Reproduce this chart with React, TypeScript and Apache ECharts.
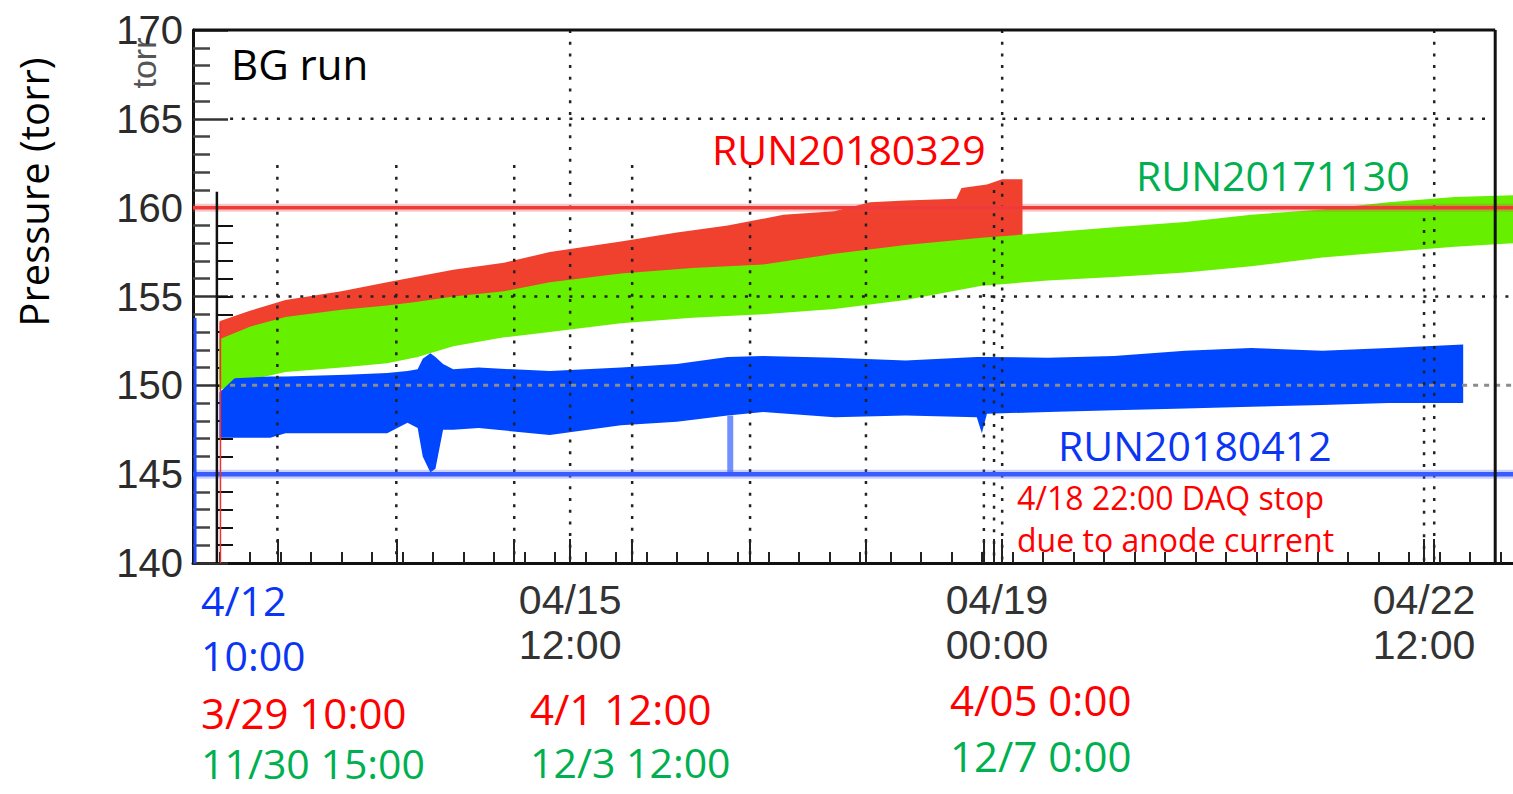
import React, { useEffect, useRef } from "react";
import * as echarts from "echarts";

// x: hours since 04/12 00:00 ; y: pressure (torr)
const xMin = 9.8;
const xMax = 269.5;
const labelTimes = [84, 168, 252];
const labelTexts = ["04/15\n12:00", "04/19\n00:00", "04/22\n12:00"];
const tallTickTimes = [26.4, 49.8, 73.0, 84, 96.2, 119.4, 142.2, 165.4, 167.4, 169, 252, 254];
const smallTickTimes = [15, 21, 27, 33, 39, 45, 51, 57, 63, 69, 75, 81, 87, 93, 99, 105, 111, 117, 123, 129, 135, 141, 147, 153, 159, 165, 171, 177, 183, 189, 195, 201, 207, 213, 219, 225, 231, 237, 243, 249, 255, 261, 267];
const innerTickValues = [141, 142, 143, 144, 145, 146, 147, 148, 149, 150, 151, 152, 153, 154, 155, 156, 157, 158, 159, 160];

// RUN20180329 (red)
const redTime = [15, 21, 28, 39, 48, 61, 71, 80, 94, 105, 115, 126, 136, 143, 150, 160, 161, 166, 169, 173];
const redHigh = [153.6, 154.2, 154.8, 155.3, 155.8, 156.5, 156.9, 157.5, 158.1, 158.6, 159.0, 159.6, 159.8, 160.3, 160.4, 160.5, 161.1, 161.3, 161.6, 161.6];
const redLow = [150.3, 150.9, 151.5, 152.0, 152.5, 153.2, 153.6, 154.2, 154.8, 155.3, 155.7, 156.3, 156.5, 157.0, 157.1, 157.2, 157.6, 157.8, 158.0, 158.0];

// RUN20171130 (green)
const greenTime = [15, 21, 28, 39, 48, 54, 61, 71, 80, 94, 108, 122, 136, 150, 165, 178, 191, 205, 218, 232, 245, 258, 269.5];
const greenHigh = [152.6, 153.3, 153.85, 154.25, 154.5, 154.7, 155.0, 155.3, 155.8, 156.3, 156.6, 156.8, 157.4, 157.9, 158.3, 158.6, 158.9, 159.2, 159.6, 159.9, 160.3, 160.6, 160.7];
const greenLow = [149.75, 150.3, 150.75, 151.0, 151.25, 151.6, 152.2, 152.7, 153.0, 153.5, 153.8, 154.0, 154.3, 154.8, 155.6, 155.9, 156.1, 156.35, 156.7, 157.2, 157.5, 157.8, 158.0];

// RUN20180412 (blue)
const blueTime = [15, 18, 25, 28, 40, 48, 52, 54, 55, 56.5, 57.5, 59, 61, 66, 80, 94, 105, 115, 122, 136, 150, 164, 165, 166, 178, 191, 205, 218, 232, 245, 259.7];
const blueHigh = [149.6, 150.4, 150.5, 150.5, 150.6, 150.7, 150.8, 150.9, 151.5, 151.8, 151.6, 151.2, 150.9, 151.0, 150.8, 151.0, 151.2, 151.6, 151.65, 151.55, 151.4, 151.6, 151.6, 151.6, 151.55, 151.65, 151.95, 152.1, 151.95, 152.1, 152.3];
const blueLow = [147.05, 147.05, 147.05, 147.3, 147.3, 147.3, 147.9, 147.6, 146.0, 145.1, 145.3, 147.5, 147.5, 147.6, 147.2, 147.75, 147.95, 148.3, 148.5, 148.2, 148.3, 148.2, 147.3, 148.4, 148.5, 148.6, 148.7, 148.8, 148.9, 149.0, 149.0];
const blueDropouts = [[115.5, 145.0, 148.3]];

// reference levels
const redLevel = 160;
const blueLevel = 145;

// grid lines [t1, v1, t2, v2]
const darkDotted = [
  [17.1, 165, 264, 165],
  [17.1, 155, 269.5, 155],
  [26.4, 162.4, 26.4, 140],
  [49.8, 162.4, 49.8, 140],
  [73.0, 162.4, 73.0, 140],
  [96.2, 162.4, 96.2, 140],
  [119.4, 162.4, 119.4, 140],
  [142.2, 162.4, 142.2, 140],
  [84, 170, 84, 140],
  [169, 170, 169, 140],
  [254, 170, 254, 140],
  [165.4, 155.8, 165.4, 140],
  [167.4, 161, 167.4, 140],
  [252, 159.4, 252, 140],
];
const grayDashed = [[17.1, 150, 269.5, 150]];
const frameLines = [
  [xMin, 170, 266, 170],
  [266, 170, 266, 140],
];
const innerAxis = [[14.5, 140, 14.5, 160.9]];
const blueAxis = [[10.2, 140, 10.2, 153.8]];
const redAxis = [[15.2, 140, 15.2, 153.5]];

const OPEN = '"Open Sans", "Noto Sans", sans-serif';

function bandSeries(times: number[], low: number[], high: number[], color: string, z: number) {
  const data = times.map((t, i) => [t, low[i], high[i]]);
  return {
    type: "custom",
    z,
    silent: true,
    clip: true,
    encode: { x: 0, y: [1, 2] },
    data,
    renderItem: (params: any, api: any) => {
      if (params.dataIndex !== 0) return null;
      const top = data.map((d) => api.coord([d[0], d[2]]));
      const bottom = data.map((d) => api.coord([d[0], d[1]])).reverse();
      return { type: "polygon", shape: { points: top.concat(bottom) }, style: { fill: color } };
    },
  };
}

function segSeries(segs: number[][], style: any, z: number) {
  return {
    type: "custom",
    z,
    silent: true,
    clip: false,
    encode: { x: [0, 2], y: [1, 3] },
    data: segs,
    renderItem: (params: any, api: any) => {
      const p1 = api.coord([api.value(0), api.value(1)]);
      const p2 = api.coord([api.value(2), api.value(3)]);
      return { type: "line", shape: { x1: p1[0], y1: p1[1], x2: p2[0], y2: p2[1] }, style };
    },
  };
}

function txt(text: string, x: number, y: number, fill: string, size: number) {
  return {
    type: "text",
    x,
    y,
    silent: true,
    style: { text, fill, font: `${size}px ${OPEN}`, lineHeight: size, align: "left", verticalAlign: "middle" },
  };
}

export default function App() {
  const ref = useRef<HTMLDivElement>(null);
  useEffect(() => {
    if (!ref.current) return;
    const chart = echarts.init(ref.current, null, { renderer: "svg" });
    const levelSegs = (v: number) => [[xMin, v, xMax, v]];
    const option: any = {
      animation: false,
      backgroundColor: "#ffffff",
      grid: { left: 193, top: 30, width: 1320, height: 533, containLabel: false },
      xAxis: [
        {
          type: "value",
          min: xMin,
          max: xMax,
          position: "bottom",
          axisLine: { show: true, lineStyle: { color: "#111", width: 3 } },
          axisTick: { show: true, inside: true, length: 24, customValues: tallTickTimes, lineStyle: { color: "#222", width: 2 } },
          axisLabel: {
            customValues: labelTimes,
            formatter: (v: number) => {
              const i = labelTimes.findIndex((t) => Math.abs(t - v) < 0.01);
              return i >= 0 ? labelTexts[i] : "";
            },
            fontFamily: '"Liberation Sans", Arial, sans-serif',
            fontSize: 41,
            lineHeight: 45,
            color: "#333",
            margin: 14,
          },
          splitLine: { show: false },
        },
        {
          type: "value",
          min: xMin,
          max: xMax,
          position: "bottom",
          axisLine: { show: false },
          axisTick: { show: true, inside: true, length: 11, customValues: smallTickTimes, lineStyle: { color: "#222", width: 2 } },
          axisLabel: { show: false },
          splitLine: { show: false },
        },
      ],
      yAxis: [
        {
          type: "value",
          min: 140,
          max: 170,
          interval: 5,
          position: "left",
          axisLine: { show: true, lineStyle: { color: "#111", width: 3 } },
          axisTick: { show: true, inside: true, length: 35, lineStyle: { color: "#333", width: 2.5 } },
          minorTick: { show: true, splitNumber: 5, length: 17, lineStyle: { color: "#444", width: 2.5 } },
          axisLabel: { fontFamily: '"Liberation Sans", Arial, sans-serif', fontSize: 40, color: "#2b2b2b", margin: 10 },
          splitLine: { show: false },
        },
        {
          type: "value",
          min: 140,
          max: 170,
          position: "left",
          offset: -23,
          axisLine: { show: false },
          axisTick: { show: true, inside: true, length: 17, customValues: innerTickValues, lineStyle: { color: "#111", width: 2 } },
          axisLabel: { show: false },
          splitLine: { show: false },
        },
      ],
      series: [
        bandSeries(redTime, redLow, redHigh, "#F0412F", 1),
        bandSeries(greenTime, greenLow, greenHigh, "#66F000", 2),
        bandSeries(blueTime, blueLow, blueHigh, "#0046FF", 2),
        segSeries(blueDropouts.map((d) => [d[0], d[1], d[0], d[2]]), { stroke: "#7090FF", lineWidth: 6 }, 3),
        segSeries(darkDotted, { stroke: "#222", lineWidth: 2.5, lineDash: [3, 8.7] }, 4),
        segSeries(grayDashed, { stroke: "#8c8c8c", lineWidth: 3, lineDash: [5, 6] }, 4),
        segSeries(levelSegs(redLevel), { stroke: "rgba(240,70,70,0.3)", lineWidth: 8 }, 5),
        segSeries(levelSegs(redLevel), { stroke: "#F03A3A", lineWidth: 3.5 }, 5),
        segSeries(levelSegs(blueLevel), { stroke: "rgba(70,100,255,0.3)", lineWidth: 9 }, 5),
        segSeries(levelSegs(blueLevel), { stroke: "#3A5BFF", lineWidth: 4.5 }, 5),
        segSeries(frameLines, { stroke: "#111", lineWidth: 3 }, 6),
        segSeries(innerAxis, { stroke: "#111", lineWidth: 2.5 }, 6),
        segSeries(blueAxis, { stroke: "#1F4FFF", lineWidth: 3 }, 6),
        segSeries(redAxis, { stroke: "#F03030", lineWidth: 1.5 }, 6),
      ],
      graphic: {
        elements: [
          {
            type: "text",
            x: 33,
            y: 192,
            rotation: Math.PI / 2,
            silent: true,
            style: { text: "Pressure (torr)", fill: "#000", font: `40px ${OPEN}`, align: "center", verticalAlign: "middle" },
          },
          {
            type: "text",
            x: 144,
            y: 63,
            rotation: Math.PI / 2,
            silent: true,
            style: { text: "torr", fill: "#555", font: '34px "Liberation Sans", Arial, sans-serif', align: "center", verticalAlign: "middle" },
          },
          txt("BG run", 231, 63, "#000", 42),
          txt("RUN20180329", 712, 149, "#FF0000", 41),
          txt("RUN20171130", 1136, 175, "#00B050", 41),
          txt("RUN20180412", 1058, 445, "#0A35F5", 41),
          txt("4/18 22:00 DAQ stop", 1017, 497, "#FF0000", 32),
          txt("due to anode current", 1017, 539, "#FF0000", 32),
          txt("4/12", 201, 600, "#0A35F5", 41),
          txt("10:00", 201, 655, "#0A35F5", 41),
          txt("3/29 10:00", 201, 712, "#FF0000", 42),
          txt("11/30 15:00", 201, 763, "#00B050", 41),
          txt("4/1 12:00", 530, 708, "#FF0000", 42),
          txt("12/3 12:00", 530, 762, "#00B050", 41),
          txt("4/05 0:00", 950, 699, "#FF0000", 42),
          txt("12/7 0:00", 950, 755, "#00B050", 42),
        ],
      },
    };
    chart.setOption(option);
    return () => chart.dispose();
  }, []);
  return <div ref={ref} style={{ position: "fixed", left: 0, top: 0, width: 1513, height: 794, background: "#fff" }} />;
}
